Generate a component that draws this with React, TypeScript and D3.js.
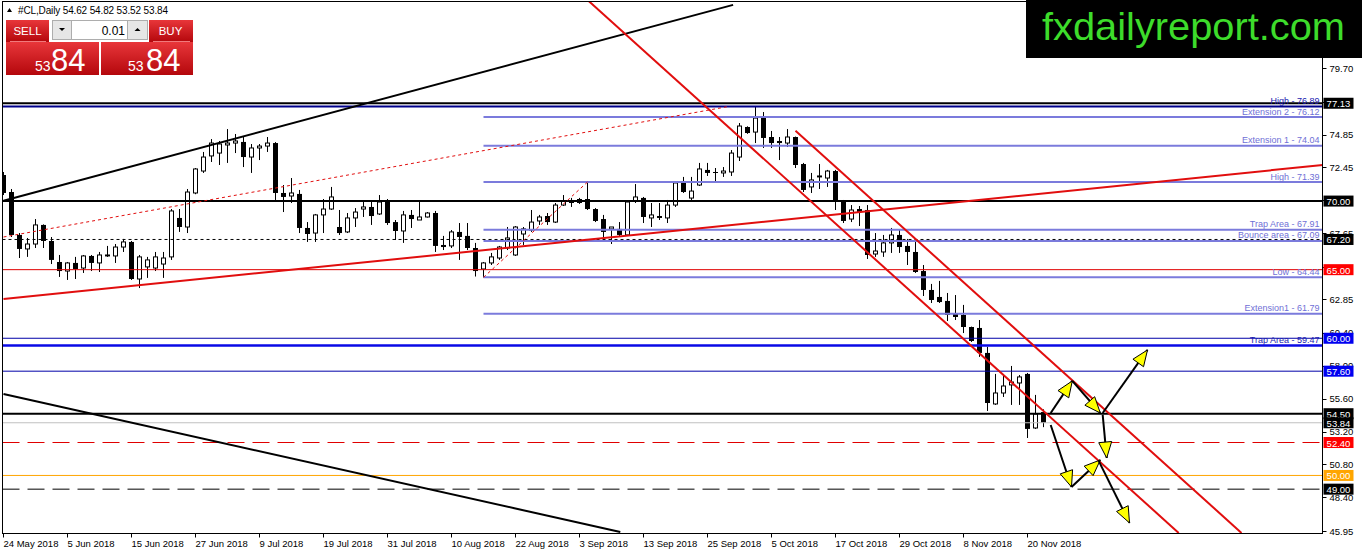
import * as d3 from 'd3';

// daily bars, 24 May 2018 .. 23 Nov 2018
const opens = [
  71.9, 70.66, 67.53, 66.51, 66.87, 68.26, 67.09, 65.56, 64.9, 65.49, 65.12, 66.0, 65.49, 66.0, 66.0, 66.65,
  67.02, 64.32, 65.2, 65.12, 65.41, 65.93, 68.77, 68.11, 70.59, 72.19, 73.29, 73.5, 74.09, 74.23, 74.31, 73.21,
  73.87, 74.01, 74.23, 70.59, 70.37, 70.52, 68.04, 67.67, 68.99, 69.42, 68.11, 67.75, 68.77, 69.42, 69.57, 69.06,
  70.01, 68.47, 67.82, 68.99, 68.62, 68.84, 69.13, 66.8, 66.73, 67.75, 67.46, 66.58, 65.05, 65.49, 65.85, 66.58,
  66.07, 67.6, 67.89, 68.55, 68.91, 68.47, 69.71, 70.08, 70.15, 70.15, 69.42, 68.69, 67.97, 67.97, 67.53, 70.01,
  70.23, 68.77, 68.91, 68.77, 69.71, 71.32, 70.22, 71.17, 72.27, 72.12, 72.05, 72.12, 73.21, 75.4, 75.03, 76.13,
  74.67, 74.38, 74.23, 74.67, 72.7, 71.03, 71.76, 71.68, 72.19, 70.01, 68.69, 69.42, 69.35, 66.14, 66.29, 66.95,
  67.53, 66.73, 66.29, 64.9, 63.52, 63.01, 62.72, 61.77, 61.7, 60.82, 60.75, 58.93, 55.21, 56.01, 56.6, 56.74,
  57.4, 53.46, 54.62,
];
const highs = [
  72.12, 70.88, 67.67, 67.31, 68.69, 68.3, 67.38, 66.07, 65.56, 65.93, 66.07, 66.07, 66.29, 66.73, 66.87, 67.24,
  67.09, 66.07, 65.93, 66.29, 66.29, 69.42, 69.42, 70.88, 72.41, 73.58, 74.52, 74.38, 75.25, 74.89, 74.74, 74.16,
  74.16, 74.67, 74.3, 71.17, 71.68, 70.81, 68.47, 69.06, 70.15, 71.03, 69.35, 69.13, 69.49, 69.93, 69.93, 70.44,
  70.15, 68.62, 69.28, 69.35, 69.93, 69.2, 69.28, 67.46, 67.89, 68.4, 68.4, 66.95, 65.56, 66.22, 66.73, 68.11,
  68.18, 68.11, 69.35, 68.99, 69.13, 69.86, 70.44, 70.23, 70.23, 71.39, 69.49, 68.99, 68.11, 68.47, 70.01, 71.24,
  70.3, 69.86, 69.86, 70.08, 71.39, 71.76, 71.76, 72.78, 72.78, 72.41, 72.48, 73.72, 75.69, 75.45, 76.89, 76.49,
  75.11, 74.67, 75.25, 74.7, 72.78, 72.05, 72.7, 72.27, 72.27, 70.08, 69.71, 69.64, 69.71, 67.67, 67.53, 68.04,
  67.89, 67.24, 67.16, 65.34, 63.96, 64.18, 63.3, 63.15, 62.43, 60.85, 61.33, 59.37, 57.4, 57.32, 57.98, 57.32,
  57.47, 55.87, 54.82,
];
const lows = [
  70.44, 67.38, 65.85, 65.93, 66.58, 66.58, 65.41, 64.47, 64.25, 64.32, 64.76, 64.9, 64.83, 65.93, 65.49, 66.29,
  64.25, 63.66, 64.4, 64.9, 64.4, 65.71, 67.75, 67.67, 70.5, 72.05, 72.85, 72.63, 72.78, 73.5, 72.48, 72.05,
  72.99, 73.58, 70.08, 69.2, 69.86, 67.67, 67.02, 67.02, 67.67, 69.35, 67.53, 67.67, 68.11, 68.84, 68.26, 68.99,
  68.26, 67.16, 66.95, 68.04, 68.62, 68.8, 66.29, 66.43, 66.58, 65.71, 66.43, 64.5, 64.44, 65.34, 65.71, 66.43,
  66.0, 66.8, 67.75, 68.26, 68.26, 68.4, 69.64, 69.57, 69.79, 69.35, 68.47, 67.02, 66.87, 67.38, 67.46, 69.86,
  68.4, 68.11, 68.62, 68.4, 69.57, 70.59, 70.08, 71.1, 71.83, 71.46, 71.76, 71.83, 72.92, 74.9, 74.23, 73.87,
  73.87, 72.99, 73.94, 72.41, 70.66, 70.59, 70.88, 71.03, 69.35, 68.4, 68.47, 68.18, 65.78, 65.93, 65.93, 66.22,
  66.22, 65.34, 64.76, 63.08, 62.57, 62.57, 61.26, 61.33, 60.38, 59.73, 58.64, 54.7, 55.14, 55.72, 55.14, 55.14,
  52.73, 53.39, 53.52,
];
const closes = [
  70.59, 67.53, 66.51, 66.87, 68.26, 67.09, 65.71, 64.9, 65.49, 65.05, 66.0, 65.49, 66.07, 66.07, 66.65, 67.02,
  64.32, 65.93, 65.71, 65.93, 65.85, 69.28, 68.11, 70.66, 72.34, 73.21, 74.23, 74.16, 74.23, 74.38, 73.21, 73.87,
  74.01, 74.23, 70.59, 70.3, 70.59, 68.04, 67.6, 68.99, 69.42, 70.3, 67.67, 68.77, 69.2, 69.57, 68.91, 69.93,
  68.4, 67.82, 68.99, 68.69, 68.84, 69.13, 66.73, 66.65, 67.75, 67.38, 66.58, 64.9, 65.49, 65.93, 66.65, 67.31,
  68.11, 67.97, 68.47, 68.84, 68.47, 69.71, 70.01, 69.86, 69.86, 69.42, 68.55, 67.75, 68.11, 67.53, 69.93, 70.3,
  68.84, 68.99, 68.77, 69.71, 71.32, 70.66, 70.73, 72.34, 72.05, 72.05, 72.19, 73.5, 75.47, 74.96, 76.05, 74.6,
  74.23, 74.23, 74.67, 72.63, 70.81, 71.54, 71.83, 72.19, 70.01, 68.55, 69.35, 69.2, 66.07, 66.36, 66.95, 67.53,
  66.65, 66.29, 64.83, 63.52, 62.79, 62.64, 61.7, 61.55, 60.82, 59.8, 58.93, 55.28, 56.01, 56.52, 56.81, 57.18,
  53.39, 54.48, 53.84,
];

// time axis labels, one every 8 bars from bar 0
const dateLabels = [
  '24 May 2018', '5 Jun 2018', '15 Jun 2018', '27 Jun 2018', '9 Jul 2018', '19 Jul 2018', '31 Jul 2018',
  '10 Aug 2018', '22 Aug 2018', '3 Sep 2018', '13 Sep 2018', '25 Sep 2018', '5 Oct 2018', '17 Oct 2018',
  '29 Oct 2018', '8 Nov 2018', '20 Nov 2018',
];
const dateStep = 8;

const priceTicks = [79.7, 77.25, 74.85, 72.45, 70.05, 67.65, 65.2, 62.85, 60.4, 58.0, 55.6, 53.2, 50.8, 48.4, 45.95];

// fibo-style levels drawn from the August low
const fibPrices = [76.12, 74.04, 71.39, 67.91, 67.09, 64.44, 61.79];
const fibLabels = [
  'Extension 2 - 76.12', 'Extension 1 - 74.04', 'High - 71.39', 'Trap Area - 67.91',
  'Bounce area - 67.09', 'Low - 64.44', 'Extension1 - 61.79',
];
const fibStartBar = 60;

// full-width horizontal levels
const levelPrices = [77.13, 76.89, 70.0, 67.2, 65.0, 60.0, 59.47, 57.6, 54.5, 53.84, 52.4, 50.0, 49.0];
const levelLabels = ['', 'High - 76.89', '', '', '', '', 'Trap Area - 59.47', '', '', '', '', '', ''];

// price tags on the right scale
const tagPrices = [77.13, 70.0, 67.2, 65.0, 60.0, 57.6, 54.5, 53.84, 52.4, 50.0, 49.0];

// trend lines as [bar, price] pairs
const trendStart = [[0, 70.02], [0, 55.94], [0, 62.86], [73, 84.66], [99, 75.13], [0, 67.38], [60, 64.44]];
const trendEnd = [[91.2, 84.3], [77.1, 45.88], [164.9, 72.63], [146.9, 45.81], [154.75, 45.81], [90.6, 76.89], [73, 71.39]];

// scenario arrows as [bar, price] pairs
const arrowStart = [[130.9, 54.55], [133.6, 56.89], [137.4, 54.55], [137.4, 54.41], [130.9, 53.68], [133.5, 49.16], [136.9, 51.06]];
const arrowEnd = [[133.6, 56.89], [137.1, 54.55], [143, 59.15], [137.9, 51.27], [133.5, 49.16], [137.1, 51.13], [140.75, 46.54]];

const header = { symbol: '#CL,Daily', ohlc: '54.62 54.82 53.52 53.84', lot: '0.01', bid: ['53', '84'], ask: ['53', '84'] };

const FONT = '"Liberation Sans", Arial, sans-serif';
const RED = '#e10e0e';

const levelStyle: Record<string, { stroke: string; width: number; dash?: string }> = {
  '77.13': { stroke: '#000', width: 2 },
  '76.89': { stroke: '#00008b', width: 2 },
  '70': { stroke: '#000', width: 2 },
  '67.2': { stroke: '#000', width: 1, dash: '3,3' },
  '65': { stroke: '#e00000', width: 1 },
  '60': { stroke: '#0000a8', width: 1 },
  '59.47': { stroke: '#0a0ae6', width: 2.5 },
  '57.6': { stroke: '#0000a8', width: 1 },
  '54.5': { stroke: '#000', width: 2 },
  '53.84': { stroke: '#c0c0c0', width: 1 },
  '52.4': { stroke: '#e00000', width: 1, dash: '17,8' },
  '50': { stroke: '#ffa500', width: 1 },
  '49': { stroke: '#000', width: 1, dash: '17,8' },
};
const tagColor: Record<string, string> = {
  '65': '#ff0000', '52.4': '#ff0000', '60': '#0000f0', '57.6': '#0000f0', '50': '#ffa500',
};
const trendStyle = [
  { stroke: '#000', width: 2 }, { stroke: '#000', width: 2 }, { stroke: RED, width: 2 },
  { stroke: RED, width: 2 }, { stroke: RED, width: 2 },
  { stroke: RED, width: 1, dash: '3,3' }, { stroke: RED, width: 1, dash: '3,3' },
];

function head(x1: number, y1: number, x2: number, y2: number) {
  const a = Math.atan2(y2 - y1, x2 - x1);
  const L = 16, hw = 6.5;
  const bx = x2 - L * Math.cos(a), by = y2 - L * Math.sin(a);
  return [
    [x2, y2],
    [bx + hw * Math.sin(a), by - hw * Math.cos(a)],
    [bx - hw * Math.sin(a), by + hw * Math.cos(a)],
  ].map((p) => p.join(',')).join(' ');
}

export default function App() {
  const plot = { left: 2.5, top: 1.5, right: 1322.5, bottom: 533.5 };
  const x = d3.scaleLinear().domain([0, 130]).range([3.5, 1043.5]);
  const y = d3.scaleLinear().domain([45.95, 79.7]).range([531, 68]);

  // MT4 draws the tags over the scale; skip tick labels a tag hides completely
  const hidden = (p: number) => tagPrices.some((t) => Math.abs(y(t) - y(p)) < 4);

  return (
    <svg width={1362} height={554} style={{ position: 'absolute', left: 0, top: 0, background: '#fff' }} fontFamily={FONT}>
      <defs>
        <clipPath id="plot">
          <rect x={plot.left} y={plot.top} width={plot.right - plot.left} height={plot.bottom - plot.top} />
        </clipPath>
        <linearGradient id="red" x1="0" y1="0" x2="0" y2="1">
          <stop offset="0" stopColor="#e8363a" />
          <stop offset="1" stopColor="#b4070c" />
        </linearGradient>
      </defs>
      <rect width={1362} height={554} fill="#fff" />

      <g clipPath="url(#plot)">
        {/* candles */}
        {opens.map((o, i) => {
          const c = closes[i];
          const cx = x(i);
          const top = y(Math.max(o, c));
          const bot = y(Math.min(o, c));
          return (
            <g key={i}>
              <line x1={cx} x2={cx} y1={y(highs[i])} y2={y(lows[i])} stroke="#000" />
              {c < o ? (
                <rect x={cx - 2.5} y={top} width={5} height={Math.max(1, bot - top)} fill="#000" />
              ) : (
                <rect x={cx - 2} y={top} width={4} height={Math.max(0.5, bot - top)} fill="#fff" stroke="#000" />
              )}
            </g>
          );
        })}

        {/* horizontal levels */}
        {levelPrices.map((p, i) => {
          const s = levelStyle[String(p)];
          return (
            <line key={i} x1={plot.left} x2={plot.right} y1={y(p)} y2={y(p)} stroke={s.stroke}
              strokeWidth={s.width} strokeDasharray={s.dash} />
          );
        })}
        {fibPrices.map((p, i) => (
          <line key={i} x1={x(fibStartBar)} x2={plot.right} y1={y(p)} y2={y(p)} stroke="#7b7bdc" strokeWidth={2} />
        ))}

        {/* trend lines */}
        {trendStart.map((s, i) => {
          const e = trendEnd[i];
          const st = trendStyle[i];
          return (
            <line key={i} x1={x(s[0])} y1={y(s[1])} x2={x(e[0])} y2={y(e[1])} stroke={st.stroke}
              strokeWidth={st.width} strokeDasharray={st.dash} />
          );
        })}

        {/* arrows */}
        {arrowStart.map((s, i) => {
          const e = arrowEnd[i];
          const x1 = x(s[0]), y1 = y(s[1]), x2 = x(e[0]), y2 = y(e[1]);
          return (
            <g key={i}>
              <line x1={x1} y1={y1} x2={x2} y2={y2} stroke="#000" strokeWidth={2} />
              <polygon points={head(x1, y1, x2, y2)} fill="#ffff00" stroke="#000" strokeWidth={1} />
            </g>
          );
        })}

        {/* level captions */}
        {fibPrices.map((p, i) => (
          <text key={i} x={plot.right - 3} y={y(p) - 2.5} textAnchor="end" fontSize={9} fill="#7070d6">
            {fibLabels[i]}
          </text>
        ))}
        {levelPrices.map((p, i) =>
          levelLabels[i] ? (
            <text key={i} x={plot.right - 3} y={y(p) - 2.5} textAnchor="end" fontSize={9} fill="#1a1ab0">
              {levelLabels[i]}
            </text>
          ) : null
        )}
      </g>

      {/* frame */}
      <rect x={plot.left} y={plot.top} width={plot.right - plot.left} height={plot.bottom - plot.top}
        fill="none" stroke="#000" />

      {/* price scale */}
      {priceTicks.map((p, i) => (
        <g key={i}>
          <line x1={plot.right} x2={plot.right + 4} y1={Math.round(y(p)) + 0.5} y2={Math.round(y(p)) + 0.5} stroke="#000" />
          {hidden(p) ? null : (
            <text x={plot.right + 7} y={y(p)} dominantBaseline="central" fontSize={9.5} fill="#000">
              {p.toFixed(2)}
            </text>
          )}
        </g>
      ))}
      {tagPrices.map((p, i) => (
        <g key={i}>
          <rect x={plot.right + 1} y={y(p) - 5.5} width={30} height={11} fill={tagColor[String(p)] ?? '#000'} />
          <text x={plot.right + 16} y={y(p) + 0.5} dominantBaseline="central" textAnchor="middle" fontSize={9.5} fill="#fff">
            {p.toFixed(2)}
          </text>
        </g>
      ))}

      {/* time scale */}
      {dateLabels.map((d, i) => {
        const tx = Math.round(x(i * dateStep)) - 0.5;
        return (
          <g key={i}>
            <line x1={tx} x2={tx} y1={plot.bottom} y2={plot.bottom + 4} stroke="#000" />
            <text x={tx} y={547} fontSize={9.5} fill="#000">{d}</text>
          </g>
        );
      })}

      {/* header */}
      <polygon points="7,12 12,12 9.5,8" fill="#000" />
      <text x={18} y={14} fontSize={10} fill="#000" textLength={150} lengthAdjust="spacing">
        {header.symbol + '  ' + header.ohlc}
      </text>

      {/* one-click trading panel */}
      <rect x={6} y={20} width={43} height={22} fill="url(#red)" />
      <line x1={10} x2={46} y1={41.5} y2={41.5} stroke="#f07a7c" />
      <text x={27.5} y={35} textAnchor="middle" fontSize={11.5} fill="#fff">SELL</text>
      <rect x={52.5} y={20.5} width={19} height={19} fill="#e6e6e6" stroke="#adadad" />
      <polygon points="59,28 65,28 62,31" fill="#000" />
      <rect x={71.5} y={20.5} width={56} height={19} fill="#fff" stroke="#adadad" />
      <text x={125} y={34.5} textAnchor="end" fontSize={12} fill="#000">{header.lot}</text>
      <rect x={127.5} y={20.5} width={20} height={19} fill="#e6e6e6" stroke="#adadad" />
      <polygon points="134.5,31 140.5,31 137.5,28" fill="#000" />
      <rect x={149} y={20} width={44} height={22} fill="url(#red)" />
      <line x1={153} x2={190} y1={41.5} y2={41.5} stroke="#f07a7c" />
      <text x={170.5} y={35} textAnchor="middle" fontSize={11.5} fill="#fff">BUY</text>

      <rect x={6} y={42} width={93} height={33} fill="url(#red)" />
      <rect x={101} y={42} width={92} height={33} fill="url(#red)" />
      <text x={35} y={71} fontSize={14} fill="#fff">{header.bid[0]}</text>
      <text x={51} y={71} fontSize={31} fill="#fff">{header.bid[1]}</text>
      <text x={128} y={71} fontSize={14} fill="#fff">{header.ask[0]}</text>
      <text x={146} y={71} fontSize={31} fill="#fff">{header.ask[1]}</text>

      {/* watermark */}
      <rect x={1026} y={0} width={336} height={58} fill="#000" />
      <text x={1042} y={40} fontSize={39} fill="#3ddc2b" textLength={303} lengthAdjust="spacingAndGlyphs"
        fontFamily='Arial, "Liberation Sans", sans-serif'>
        fxdailyreport.com
      </text>
    </svg>
  );
}
